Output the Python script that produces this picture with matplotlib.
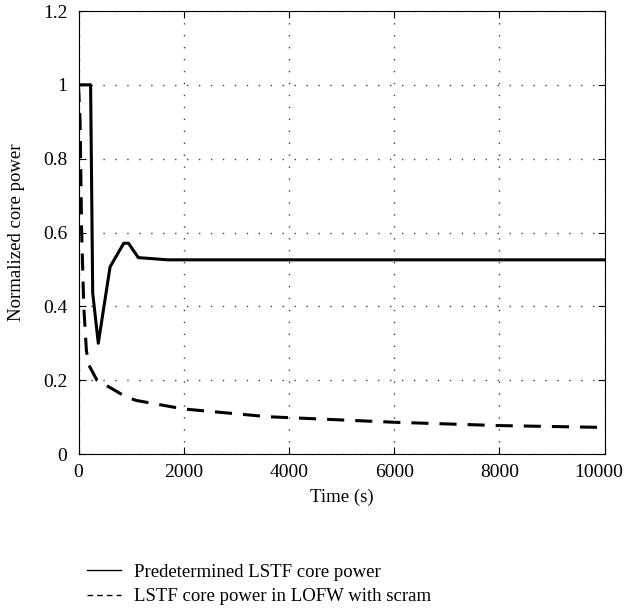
import matplotlib
matplotlib.use('Agg')
import matplotlib.pyplot as plt
from matplotlib.lines import Line2D
from matplotlib.transforms import ScaledTranslation

plt.rcParams['font.family'] = ['Liberation Serif', 'DejaVu Serif']
plt.rcParams['font.size'] = 13.5

# Predetermined LSTF core power (solid)
t_pred = [0, 230, 270, 376, 600, 860, 950, 1136, 1700, 4000, 10000]
p_pred = [1.0, 1.0, 0.436, 0.30, 0.507, 0.571, 0.571, 0.532, 0.526, 0.526, 0.526]

# LSTF core power in LOFW with scram (dashed)
t_scram = [0, 30, 60, 100, 150, 200, 350, 600, 900, 1100, 2000, 3600, 6000, 8000, 10000]
p_scram = [1.0, 0.9, 0.6, 0.4, 0.28, 0.24, 0.20, 0.18, 0.155, 0.145, 0.122, 0.101, 0.086, 0.077, 0.072]

fig = plt.figure(figsize=(6.27, 6.09), dpi=100)
ax = fig.add_axes([0.1252, 0.2545, 0.8392, 0.7274])

ax.plot(t_pred, p_pred, color='black', linewidth=2.2)
ax.plot(t_scram, p_scram, color='black', linewidth=2.2, linestyle=(0, (5.6, 3.6)))

ax.set_xlim(0, 10000)
ax.set_ylim(0, 1.2)
ax.set_xticks([0, 2000, 4000, 6000, 8000, 10000])
ax.set_yticks([0, 0.2, 0.4, 0.6, 0.8, 1.0, 1.2])
ax.set_yticklabels(['0', '0.2', '0.4', '0.6', '0.8', '1', '1.2'])
ax.tick_params(direction='in', top=True, right=True, length=5, width=0.8, labelsize=14)
ax.tick_params(axis='x', pad=7)
ax.tick_params(axis='y', pad=8)
ax.grid(True, color='0.25', linestyle=(0, (1, 7.6)), linewidth=1.0)
for s in ax.spines.values():
    s.set_linewidth(0.8)

# keep the last x label inside the figure
last = ax.get_xticklabels()[-1]
last.set_transform(last.get_transform() + ScaledTranslation(-4 / 72, 0, fig.dpi_scale_trans))

ax.set_xlabel('Time (s)', labelpad=6)
ax.set_ylabel('Normalized core power', labelpad=13)

handles = [
    Line2D([], [], color='black', linewidth=1.0),
    Line2D([], [], color='black', linewidth=1.0, linestyle=(0, (4, 3))),
]
labels = ['Predetermined LSTF core power', 'LSTF core power in LOFW with scram']
fig.legend(handles, labels, loc='upper left', bbox_to_anchor=(0.127, 0.087),
           frameon=False, handlelength=1.8, handletextpad=0.7, labelspacing=0.4,
           fontsize=13.5, borderaxespad=0)

fig.savefig('out.png', dpi=100)
